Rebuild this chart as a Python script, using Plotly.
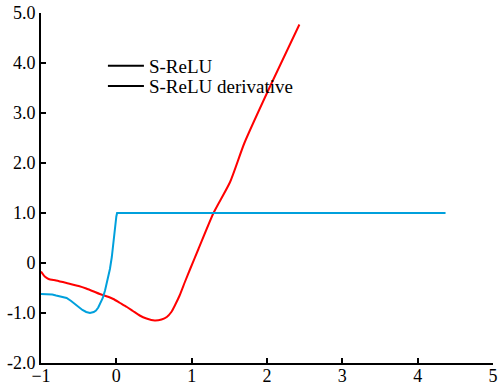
import plotly.graph_objects as go

# S-ReLU curve (red)
srelu_x = [-1.0, -0.95, -0.9, -0.8, -0.66, -0.5, -0.4, -0.3, -0.22, -0.1, -0.04, 0.05, 0.14, 0.22, 0.31, 0.4, 0.51, 0.6, 0.67, 0.73, 0.78, 0.84, 0.91, 0.98, 1.09, 1.29, 1.51, 1.70, 2.04, 2.43]
srelu_y = [-0.17, -0.27, -0.32, -0.35, -0.40, -0.46, -0.51, -0.57, -0.62, -0.68, -0.72, -0.80, -0.88, -0.96, -1.05, -1.11, -1.15, -1.13, -1.08, -0.98, -0.84, -0.65, -0.38, -0.12, 0.28, 1.0, 1.62, 2.40, 3.53, 4.77]

# S-ReLU derivative curve (blue)
deriv_x = [-1.0, -0.92, -0.85, -0.8, -0.72, -0.66, -0.6, -0.55, -0.5, -0.45, -0.4, -0.35, -0.3, -0.27, -0.24, -0.21, -0.18, -0.15, -0.11, -0.085, -0.06, -0.04, -0.02, 0.0, 0.01, 4.37]
deriv_y = [-0.62, -0.62, -0.63, -0.65, -0.67, -0.70, -0.76, -0.82, -0.89, -0.94, -0.98, -1.0, -0.98, -0.95, -0.89, -0.80, -0.70, -0.55, -0.30, -0.12, 0.12, 0.42, 0.72, 0.93, 1.0, 1.0]

legend_names = ["S-ReLU", "S-ReLU derivative"]

x_ticks = [-1, 0, 1, 2, 3, 4, 5]
y_ticks = [-2, -1, 0, 1, 2, 3, 4, 5]
y_ticklabels = ["-2.0", "-1.0", "0", "1.0", "2.0", "3.0", "4.0", "5.0"]

FONT = "Liberation Serif, Times New Roman, serif"

fig = go.Figure()
fig.add_trace(go.Scatter(x=srelu_x, y=srelu_y, mode="lines",
                         line=dict(color="#ff0000", width=2, shape="spline", smoothing=0.6),
                         showlegend=False))
fig.add_trace(go.Scatter(x=deriv_x, y=deriv_y, mode="lines",
                         line=dict(color="#00a0dc", width=2),
                         showlegend=False))
for name, leg in zip(legend_names, ["legend", "legend2"]):
    fig.add_trace(go.Scatter(x=[None], y=[None], mode="lines", name=name,
                             line=dict(color="black", width=2), legend=leg))

leg_common = dict(xanchor="left", yanchor="middle", bgcolor="rgba(0,0,0,0)",
                  font=dict(family=FONT, size=19), itemwidth=36)

fig.update_layout(
    width=498, height=385,
    margin=dict(l=41, r=5, t=13, b=22),
    plot_bgcolor="white", paper_bgcolor="white",
    font=dict(family=FONT, size=17, color="black"),
    showlegend=True,
    legend=dict(x=0.137, y=0.849, **leg_common),
    legend2=dict(x=0.137, y=0.791, **leg_common),
    xaxis=dict(range=[-1, 5], tickvals=x_ticks, ticks="inside", ticklen=5, tickwidth=2,
               showline=True, linecolor="black", linewidth=2, showgrid=False, zeroline=False,
               tickcolor="black", tickfont=dict(family=FONT, size=18), automargin=False,
               ticklabelstandoff=-5),
    yaxis=dict(range=[-2, 5], tickvals=y_ticks, ticktext=y_ticklabels, ticks="inside",
               ticklen=5, tickwidth=2, showline=True, linecolor="black", linewidth=2,
               showgrid=False, zeroline=False, tickcolor="black",
               tickfont=dict(family=FONT, size=18), automargin=False),
)

fig.write_html("out.html", post_script="document.body.style.margin='0px';",
               config=dict(displayModeBar=False))
